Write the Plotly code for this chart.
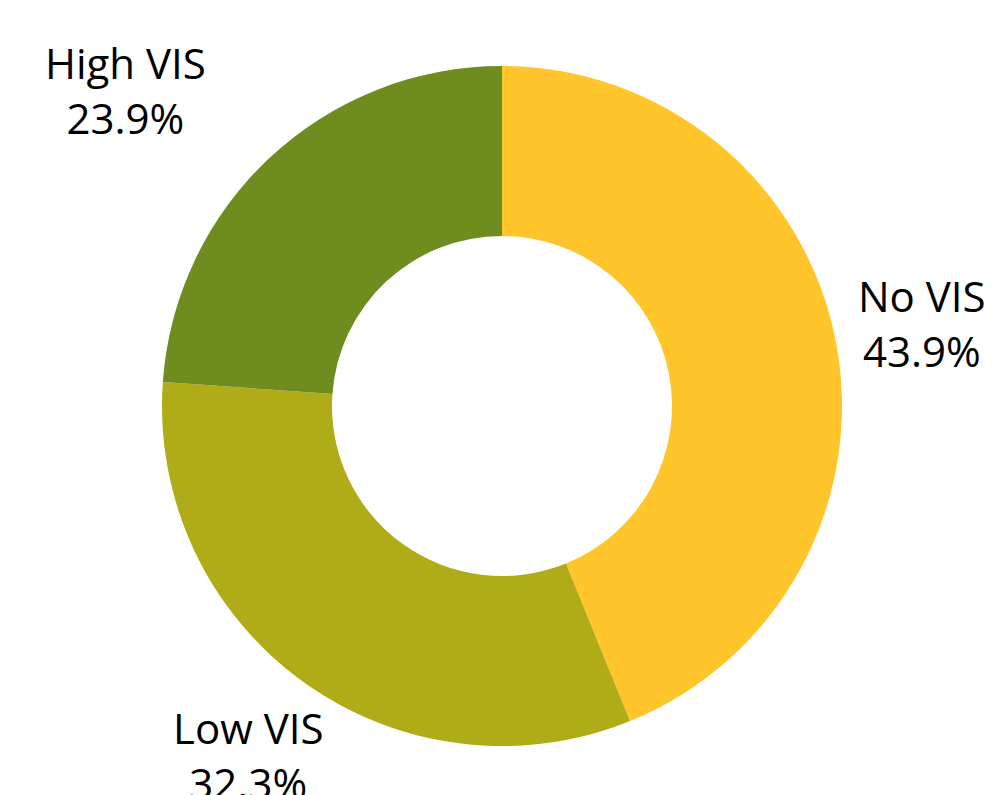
import math
import plotly.graph_objects as go

labels = ["No VIS", "Low VIS", "High VIS"]
values = [43.9, 32.3, 23.9]
colors = ["#FFC52A", "#B0AC17", "#6F8C1E"]

W, H = 985, 787
M = dict(l=3, r=0, t=58, b=49)
LABEL_DIST = 1.27  # label centre distance as a multiple of the outer radius
LABEL_XSHIFT = {"High VIS": -82, "No VIS": -4}  # horizontal nudges (px)

fig = go.Figure(go.Pie(
    labels=labels,
    values=values,
    hole=0.5,
    sort=False,
    direction="clockwise",
    rotation=0,
    marker=dict(colors=colors),
    textinfo="none",
    hoverinfo="label+percent",
    showlegend=False,
))

# place labels outside, along each slice's mid-angle
pw = W - M["l"] - M["r"]
ph = H - M["t"] - M["b"]
radius = min(pw, ph) / 2
total = sum(values)
cum = 0.0
for lab, val in zip(labels, values):
    mid = (cum + val / 2) / total * 2 * math.pi
    cum += val
    dx = LABEL_DIST * radius * math.sin(mid)
    dy = LABEL_DIST * radius * math.cos(mid)
    fig.add_annotation(
        x=0.5 + dx / pw, y=0.5 + dy / ph,
        xref="paper", yref="paper",
        text=f"{lab}<br>{val:.1f}%",
        showarrow=False,
        xanchor="center", yanchor="middle",
        xshift=LABEL_XSHIFT.get(lab, 0),
        font=dict(family="Open Sans", size=42, color="black"),
    )

fig.update_layout(
    width=W, height=H,
    margin=M,
    paper_bgcolor="white",
    plot_bgcolor="white",
)
fig.write_html("out.html")
